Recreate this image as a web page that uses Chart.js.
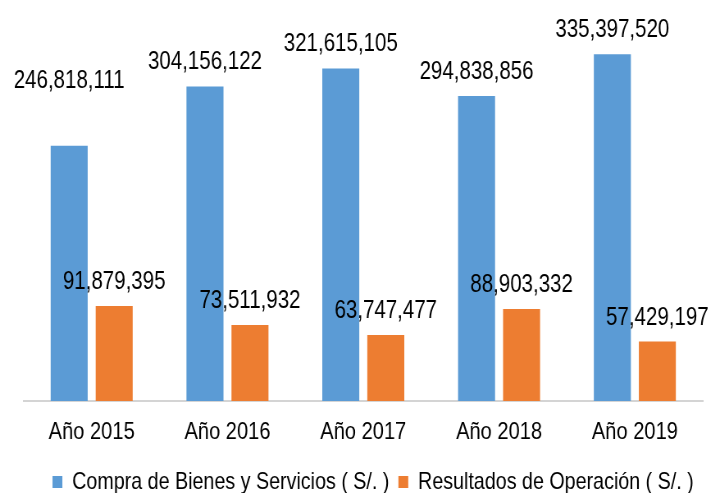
<!DOCTYPE html>
<html>
<head>
<meta charset="utf-8">
<script src="https://cdn.jsdelivr.net/npm/chart.js@4.4.1/dist/chart.umd.min.js"></script>
<style>
  html, body { margin: 0; padding: 0; background: #fff; overflow: hidden; }
  /* no narrow font installed: draw wide and squeeze horizontally */
  #wrap { width: 866px; height: 493px; position: relative; transform: scaleX(0.82); transform-origin: 0 0; }
</style>
</head>
<body>
<div id="wrap"><canvas id="chart"></canvas></div>
<script>
// values
const years = ['Año 2015', 'Año 2016', 'Año 2017', 'Año 2018', 'Año 2019'];
const compras = [246818111, 304156122, 321615105, 294838856, 335397520];
const resultados = [91879395, 73511932, 63747477, 88903332, 57429197];
const seriesNames = ['Compra de Bienes y Servicios ( S/. )', 'Resultados de Operación ( S/. )'];

const FONT = "'Liberation Sans', Arial, sans-serif";

// first blue label sits higher than the others in the original
const extraLift = [[41, 0, 0, 0, 0], [0, 0, 0, 0, 0]];

const valueLabels = {
  id: 'valueLabels',
  afterDatasetsDraw(chart) {
    const ctx = chart.ctx;
    ctx.save();
    ctx.font = '25px ' + FONT;
    ctx.fillStyle = '#000';
    ctx.textAlign = 'center';
    ctx.textBaseline = 'alphabetic';
    chart.data.datasets.forEach((ds, i) => {
      const meta = chart.getDatasetMeta(i);
      meta.data.forEach((bar, j) => {
        const txt = ds.data[j].toLocaleString('en-US');
        ctx.fillText(txt, bar.x, bar.y - 17 - extraLift[i][j]);
      });
    });
    ctx.restore();
  }
};

new Chart(document.getElementById('chart'), {
  type: 'bar',
  data: {
    labels: years,
    datasets: [
      {
        label: seriesNames[0],
        data: compras,
        backgroundColor: '#5b9bd5',
        categoryPercentage: 0.663,
        barPercentage: 0.822
      },
      {
        label: seriesNames[1],
        data: resultados,
        backgroundColor: '#ed7d31',
        categoryPercentage: 0.663,
        barPercentage: 0.822
      }
    ]
  },
  options: {
    responsive: true,
    maintainAspectRatio: false,
    animation: false,
    layout: { padding: { top: 8, left: 29, right: 9, bottom: -11 } },
    scales: {
      x: {
        grid: { display: false, drawTicks: false },
        border: { display: true, color: '#d4d4d4', width: 2 },
        ticks: { color: '#000', font: { family: FONT, size: 24.5 }, padding: 17 },
        afterFit(scale) { scale.height = 58; }
      },
      y: {
        display: false,
        min: 0,
        max: 380000000
      }
    },
    plugins: {
      legend: {
        position: 'bottom',
        align: 'end',
        labels: {
          color: '#000',
          font: { family: FONT, size: 24 },
          boxWidth: 12,
          boxHeight: 12,
          padding: 11
        }
      },
      tooltip: { enabled: false }
    }
  },
  plugins: [valueLabels]
});
</script>
</body>
</html>
